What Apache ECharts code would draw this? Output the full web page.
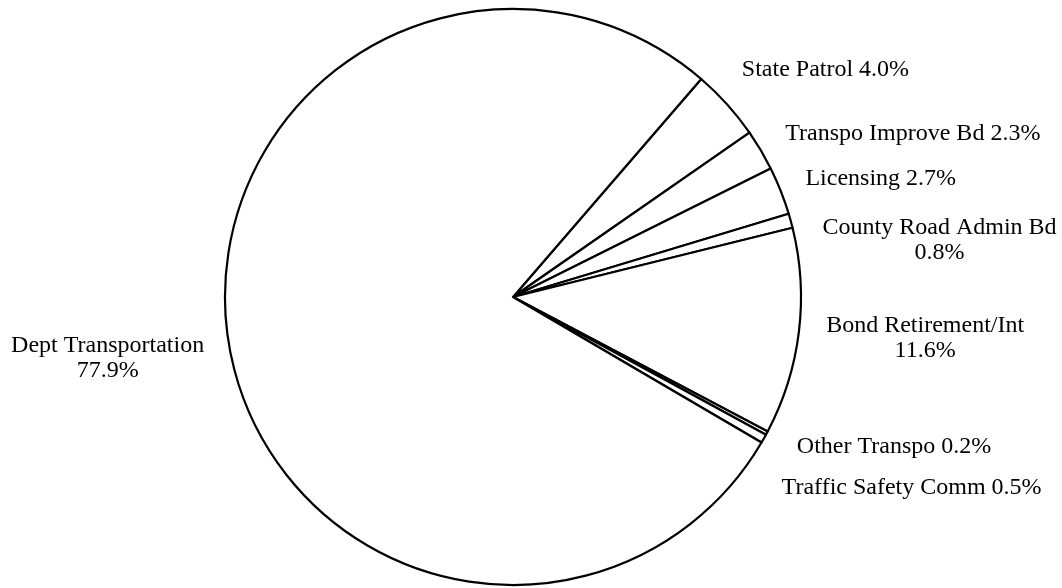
<!DOCTYPE html>
<html>
<head>
<meta charset="utf-8">
<script src="https://cdn.jsdelivr.net/npm/echarts@6/dist/echarts.min.js"></script>
<style>
html,body{margin:0;padding:0;background:#fff;}
#chart{width:1062px;height:588px;}
</style>
</head>
<body>
<div id="chart"></div>
<script>
var categories = ['State Patrol', 'Transpo Improve Bd', 'Licensing', 'County Road Admin Bd', 'Bond Retirement/Int', 'Other Transpo', 'Traffic Safety Comm', 'Dept Transportation'];
var shares = [4.0, 2.3, 2.7, 0.8, 11.6, 0.2, 0.5, 77.9];
var twoLine = [false, false, false, true, true, false, false, true];
// label nudges (px) to mimic the original layout
var labelNudgeX = [-9, -3, -5, 2, -5, -7, -10, 4];
var labelNudgeY = [-13, 0, 0, 22, 2, -2, 12, 9];

var chart = echarts.init(document.getElementById('chart'), null, {renderer: 'canvas'});
var data = categories.map(function (c, i) { return {name: c, value: shares[i]}; });

chart.setOption({
  backgroundColor: '#ffffff',
  animation: false,
  series: [{
    type: 'pie',
    center: [513, 297],
    radius: [0, 288],
    startAngle: 49.2,
    clockwise: true,
    avoidLabelOverlap: true,
    data: data,
    itemStyle: {color: '#ffffff', borderColor: '#000000', borderWidth: 2.2},
    emphasis: {disabled: true},
    labelLine: {show: false, length: 32, length2: 0},
    labelLayout: function (p) {
      return {dx: labelNudgeX[p.dataIndex], dy: labelNudgeY[p.dataIndex]};
    },
    label: {
      show: true,
      position: 'outside',
      overflow: 'none',
      distanceToLabelLine: 0,
      fontFamily: 'Liberation Serif',
      fontSize: 24,
      color: '#000000',
      lineHeight: 25,
      formatter: function (p) {
        var pct = p.value.toFixed(1) + '%';
        if (twoLine[p.dataIndex]) {
          return '{c|' + p.name + '}\n{c|' + pct + '}';
        }
        return p.name + ' ' + pct;
      },
      rich: {
        c: {align: 'center', fontFamily: 'Liberation Serif', fontSize: 24, lineHeight: 25, color: '#000000'}
      }
    }
  }]
});
</script>
</body>
</html>
